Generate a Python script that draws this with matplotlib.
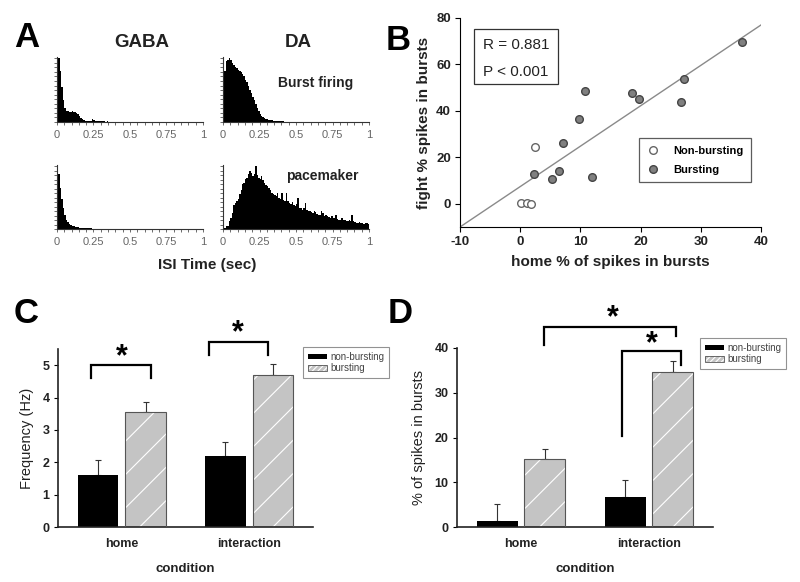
import numpy as np
import matplotlib
matplotlib.use('Agg')
import matplotlib.pyplot as plt
from matplotlib.patches import Patch, Rectangle

plt.rcParams['font.family'] = ['Liberation Sans', 'DejaVu Sans']
plt.rcParams['hatch.linewidth'] = 0.8
plt.rcParams['axes.unicode_minus'] = False

# %% data
# panel A: ISI histograms, 0.01 s bins from 0 to 1 s (relative counts)
isi_edges = np.linspace(0, 1, 101)
gaba_burst = [95, 100, 80, 55, 35, 22, 18, 17, 15, 16,
              17, 15, 16, 14, 12, 10, 7, 4, 3, 2,
              2, 1.5, 1.5, 2, 4, 3, 1.5, 1, 1, 1,
              0.8, 0.8, 1, 0.6, 0.8, 0.5, 0.6, 0.5, 0.5, 0.4,
              0.5, 0.4, 0.3, 0.4, 0.3, 0.3, 0.4, 0.3, 0.3, 0.2,
              0.3, 0.2, 0.3, 0.2, 0.2, 0.3, 0.2, 0.2, 0.2, 0.3,
              0.2, 0.2, 0.2, 0.2, 0.3, 0.2, 0.2, 0.2, 0.2, 0.2,
              0.2, 0.2, 0.3, 0.2, 0.2, 0.2, 0.2, 0.2, 0.2, 0.2,
              0.2, 0.2, 0.2, 0.2, 0.2, 0.2, 0.2, 0.2, 0.2, 0.2,
              0.2, 0.2, 0.2, 0.2, 0.2, 0.2, 0.2, 0.2, 0.2, 0.2]
da_burst = [30, 80, 95, 98, 100, 97, 92, 90, 87, 85,
            82, 80, 78, 75, 72, 66, 62, 57, 50, 46,
            40, 34, 28, 22, 17, 13, 10, 8, 6, 5,
            4, 3.5, 3, 2.5, 2, 1.5, 1.5, 1, 1, 1,
            0.8, 0.8, 0.5, 0.5, 0.4, 0.3, 0.3, 0.3, 0.2, 0.2,
            0.2, 0.2, 0.2, 0.2, 0.2, 0.2, 0.2, 0.2, 0.2, 0.2,
            0.2, 0.2, 0.2, 0.2, 0.2, 0.2, 0.2, 0.2, 0.2, 0.2,
            0.2, 0.2, 0.2, 0.2, 0.2, 0.2, 0.2, 0.2, 0.2, 0.2,
            0.2, 0.2, 0.2, 0.2, 0.2, 0.2, 0.2, 0.2, 0.2, 0.2,
            0.2, 0.2, 0.2, 0.2, 0.2, 0.2, 0.2, 0.2, 0.2, 0.2]
gaba_pace = [100, 88, 65, 48, 33, 22, 15, 11, 8, 6.5,
             5, 4, 3.5, 3, 2.5, 2, 1.8, 1.5, 1.3, 1.2,
             1, 1, 0.8, 0.8, 0.6, 0.6, 0.5, 0.4, 0.3, 0.3,
             0.2, 0.2, 0.2, 0.2, 0.2, 0.2, 0.2, 0.2, 0.2, 0.2,
             0.2, 0.2, 0.2, 0.2, 0.2, 0.2, 0.2, 0.2, 0.2, 0.2,
             0.2, 0.2, 0.2, 0.2, 0.2, 0.2, 0.2, 0.2, 0.2, 0.2,
             0.2, 0.2, 0.2, 0.2, 0.2, 0.2, 0.2, 0.2, 0.2, 0.2,
             0.2, 0.2, 0.2, 0.2, 0.2, 0.2, 0.2, 0.2, 0.2, 0.2,
             0.2, 0.2, 0.2, 0.2, 0.2, 0.2, 0.2, 0.2, 0.2, 0.2,
             0.2, 0.2, 0.2, 0.2, 0.2, 0.2, 0.2, 0.2, 0.2, 0.2]
da_pace = [1, 2, 4, 5, 12, 18, 25, 38, 42, 45,
           48, 56, 62, 72, 74, 80, 82, 88, 92, 90,
           84, 88, 100, 86, 82, 80, 84, 78, 74, 70,
           68, 66, 62, 58, 56, 54, 52, 58, 50, 48,
           58, 47, 45, 58, 44, 42, 40, 43, 38, 36,
           40, 50, 34, 33, 31, 34, 42, 30, 29, 28,
           27, 26, 28, 27, 24, 22, 23, 29, 26, 21,
           22, 20, 19, 18, 20, 17, 18, 22, 16, 14,
           15, 17, 14, 15, 13, 12, 14, 13, 22, 12,
           11, 10, 9, 11, 10, 9, 8, 9, 10, 8]

# panel B: % spikes in bursts, home vs fight
home_nonburst = [0.1, 1.1, 1.8, 2.5]
fight_nonburst = [0.5, 0.5, 0.1, 24.4]
home_burst = [2.3, 5.3, 6.4, 7.1, 9.8, 10.7, 11.9, 18.6, 19.7, 26.7, 27.2, 36.9]
fight_burst = [13.0, 10.5, 14.1, 26.3, 36.4, 48.6, 11.5, 47.5, 45.2, 44.0, 53.8, 69.8]
fit_slope = 1.74
fit_intercept = 7.4

# panels C and D
conditions = ['home', 'interaction']
freq_nonburst = [1.6, 2.18]
freq_nonburst_err = [0.46, 0.46]
freq_burst = [3.54, 4.69]
freq_burst_err = [0.32, 0.35]
pct_nonburst = [1.3, 6.6]
pct_nonburst_err = [3.9, 4.0]
pct_burst = [15.2, 34.7]
pct_burst_err = [2.2, 2.5]

# %% layout helpers (pixel coords, origin top-left)
W, H = 800, 582
fig = plt.figure(figsize=(8, 5.82), dpi=100)


def px(x0, x1, ytop, ybot):
    return [x0 / W, 1 - ybot / H, (x1 - x0) / W, (ybot - ytop) / H]


def ftext(x, y, s, **kw):
    fig.text(x / W, 1 - y / H, s, **kw)


def clean(ax):
    ax.spines['top'].set_visible(False)
    ax.spines['right'].set_visible(False)


# %% panel A
hists = [(gaba_burst, px(57, 203, 57, 122)), (da_burst, px(223, 369, 57, 122)),
         (gaba_pace, px(57, 203, 165, 229)), (da_pace, px(223, 369, 165, 229))]
for vals, rect in hists:
    ax = fig.add_axes(rect)
    ax.stairs(vals, isi_edges, fill=True, color='black')
    ax.set_xlim(0, 1)
    ax.set_ylim(0, 102)
    clean(ax)
    for s in ['left', 'bottom']:
        ax.spines[s].set_color('#333')
        ax.spines[s].set_linewidth(0.8)
    ax.set_xticks([0, 0.25, 0.5, 0.75, 1])
    ax.set_xticklabels(['0', '0.25', '0.5', '0.75', '1'])
    ax.set_xticks(np.arange(0, 1.01, 0.05), minor=True)
    ax.set_yticks(np.linspace(0, 100, 15))
    ax.set_yticklabels([])
    ax.tick_params(axis='x', which='both', length=2, width=0.6, color='#555',
                   labelsize=8, labelcolor='#666', pad=4)
    ax.tick_params(axis='y', length=2, width=0.6, color='#555')

ftext(14, 47, 'A', fontsize=25, fontweight='bold')
ftext(142, 47, 'GABA', fontsize=13.5, fontweight='bold', ha='center', color='#222')
ftext(298, 47, 'DA', fontsize=13.5, fontweight='bold', ha='center', color='#222')
ftext(316, 87, 'Burst firing', fontsize=10, fontweight='bold', ha='center', color='#222')
ftext(322, 180, 'pacemaker', fontsize=10, fontweight='bold', ha='center', color='#222')
ftext(207, 269, 'ISI Time (sec)', fontsize=11, fontweight='bold', ha='center', color='#222')

# %% panel B
ax = fig.add_axes(px(460, 761, 18, 227))
clean(ax)
xs = np.array([-10, 40])
ax.plot(xs, fit_slope * xs + fit_intercept, color='#8a8a8a', lw=1)
ax.plot(home_nonburst, fight_nonburst, 'o', ms=5.5, mfc='white', mec='#666', mew=1,
        label='Non-bursting', clip_on=False)
ax.plot(home_burst, fight_burst, 'o', ms=5.5, mfc='#808080', mec='#444', mew=1,
        label='Bursting', clip_on=False)
ax.set_xlim(-10, 40)
ax.set_ylim(-10, 80)
ax.set_xticks(range(-10, 41, 10))
ax.set_yticks(range(0, 81, 20))
ax.tick_params(length=3.5, width=0.8, labelsize=9.5, pad=3)
for lab in ax.get_xticklabels() + ax.get_yticklabels():
    lab.set_fontweight('bold')
    lab.set_color('#222')
ax.set_xlabel('home % of spikes in bursts', fontsize=11, fontweight='bold', labelpad=5, color='#222')
ax.set_ylabel('fight % spikes in bursts', fontsize=11, fontweight='bold', labelpad=4, color='#222')
ax.add_patch(Rectangle((-7.7, 51.6), 14.0, 23.7, fill=False, ec='#333', lw=0.9))
ax.text(-0.7, 68.4, 'R = 0.881', fontsize=11, ha='center', va='center', color='#222')
ax.text(-0.7, 56.7, 'P < 0.001', fontsize=11, ha='center', va='center', color='#222')
leg = ax.legend(loc='upper left', bbox_to_anchor=(639 / W, 1 - 138 / H),
                bbox_transform=fig.transFigure, fancybox=False, frameon=True,
                prop={'size': 8, 'weight': 'bold'}, handlelength=1.2, handletextpad=1.2,
                labelspacing=0.8, borderpad=0.7, borderaxespad=0)
leg.get_frame().set_edgecolor('#333')
leg.get_frame().set_linewidth(0.9)
ftext(386, 50, 'B', fontsize=25, fontweight='bold')


# %% panels C and D
def bar_panel(rect, nb, nb_err, b, b_err, ylim, yticks, ylabel, leg_xy):
    ax = fig.add_axes(rect)
    clean(ax)
    x = np.arange(len(conditions))
    off, w = 0.187, 0.32
    ax.bar(x - off, nb, w, color='black', zorder=2)
    ax.bar(x + off, b, w, color='#c4c4c4', edgecolor='white', hatch='/', linewidth=0, zorder=2)
    ax.bar(x + off, b, w, fill=False, edgecolor='#555', linewidth=0.8, zorder=3)
    ax.errorbar(x - off, nb, yerr=[np.zeros(2), nb_err], fmt='none', ecolor='#333',
                elinewidth=0.8, capsize=2.5, capthick=0.8, zorder=1)
    ax.errorbar(x + off, b, yerr=[np.zeros(2), b_err], fmt='none', ecolor='#333',
                elinewidth=0.8, capsize=2.5, capthick=0.8, zorder=1)
    ax.set_xlim(-0.5, 1.5)
    ax.set_ylim(*ylim)
    ax.set_yticks(yticks)
    ax.set_xticks(x)
    ax.set_xticklabels(conditions)
    ax.tick_params(axis='x', length=0, pad=8)
    ax.tick_params(axis='y', length=3, width=0.8, pad=3)
    for lab in ax.get_xticklabels() + ax.get_yticklabels():
        lab.set_fontweight('bold')
        lab.set_fontsize(9)
        lab.set_color('#222')
    for s in ['left', 'bottom']:
        ax.spines[s].set_linewidth(1.2)
        ax.spines[s].set_color('#222')
    ax.set_xlabel('condition', fontsize=9.5, fontweight='bold', labelpad=9, color='#222')
    ax.set_ylabel(ylabel, fontsize=10.5, labelpad=6, color='#222')
    handles = [Patch(facecolor='black'),
               (Patch(facecolor='#c4c4c4', edgecolor='white', hatch='//////', lw=0),
                Patch(fill=False, edgecolor='#555', lw=0.6))]
    leg = ax.legend(handles, ['non-bursting', 'bursting'], loc='upper left',
                    bbox_to_anchor=(leg_xy[0] / W, 1 - leg_xy[1] / H),
                    bbox_transform=fig.transFigure, fancybox=False,
                    prop={'size': 7}, handlelength=2.0, handleheight=0.5,
                    handletextpad=0.3, labelspacing=0.15, borderpad=0.5, borderaxespad=0)
    leg.get_frame().set_edgecolor('#777')
    leg.get_frame().set_linewidth(0.8)
    for t in leg.get_texts():
        t.set_color('#444')
    return ax


def bracket(ax, x0, x1, top, y0, y1, star_x, star_y):
    ax.plot([x0, x0, x1, x1], [y0, top, top, y1], color='black', lw=1.6, clip_on=False,
            solid_joinstyle='miter')
    ax.text(star_x, star_y, '*', fontsize=22, fontweight='bold', ha='center', va='center',
            clip_on=False)


ax = bar_panel(px(58, 313, 349, 527), freq_nonburst, freq_nonburst_err, freq_burst,
               freq_burst_err, (0, 5.5), range(0, 6), 'Frequency (Hz)', (303, 347))
bracket(ax, -0.24, 0.23, 5.0, 4.59, 4.59, 0.0, 5.25)
bracket(ax, 0.687, 1.148, 5.72, 5.31, 5.31, 0.913, 5.98)
ftext(14, 323, 'C', fontsize=25, fontweight='bold')

ax = bar_panel(px(457, 713, 348, 527), pct_nonburst, pct_nonburst_err, pct_burst,
               pct_burst_err, (0, 40), range(0, 41, 10), '% of spikes in bursts', (700, 338))
bracket(ax, 0.177, 1.208, 44.7, 40.7, 42.6, 0.719, 46.6)
bracket(ax, 0.79, 1.253, 39.3, 20.3, 36.3, 1.023, 40.8)
ftext(388, 323, 'D', fontsize=25, fontweight='bold')

fig.savefig('out.png', dpi=100)
